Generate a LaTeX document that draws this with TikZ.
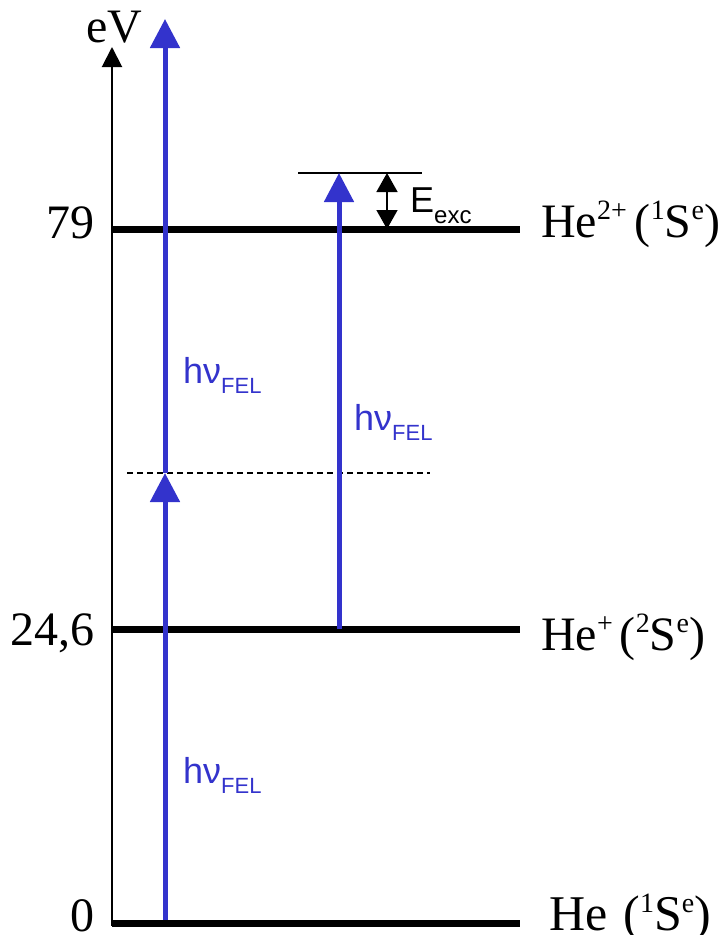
\documentclass[tikz,border=0pt]{standalone}
\usepackage{fontspec}
\setmainfont{Liberation Serif}
\newfontfamily\arialf{Liberation Sans}
\usetikzlibrary{arrows.meta}
\definecolor{felblue}{RGB}{51,51,204}
\newcommand\supx[1]{\raisebox{18pt}{\fontsize{28}{30}\selectfont #1}}
\newcommand\subx[1]{\raisebox{-10pt}{\fontsize{22}{24}\selectfont #1}}
\newcommand\subxx[1]{\raisebox{-11pt}{\fontsize{24}{26}\selectfont #1}}
\begin{document}
\begin{tikzpicture}[x=1pt,y=-1pt,
  level/.style={line width=7pt},
  axisline/.style={line width=2pt,-{Triangle[width=20pt,length=20pt]}},
  photon/.style={felblue,line width=5pt,-{Triangle[width=29pt,length=29pt]}},
  thinline/.style={line width=1.5pt},
  virtual/.style={line width=1.5pt,dash pattern=on 6pt off 4pt},
  excarrow/.style={line width=1.5pt,{Triangle[width=21pt,length=19pt]}-{Triangle[width=21pt,length=19pt]}},
  lbl/.style={font=\fontsize{48}{50}\selectfont,inner sep=0pt},
  fel/.style={text=felblue,font=\arialf\fontsize{36}{40}\selectfont,inner sep=0pt,anchor=base west}]
\useasboundingbox (0,0) rectangle (728,935);
% coordinates
\coordinate (L0a) at (112,923); \coordinate (L0b) at (520,923);
\coordinate (L1a) at (112,629); \coordinate (L1b) at (520,629);
\coordinate (L2a) at (112,229); \coordinate (L2b) at (520,229);
\coordinate (ax0) at (112,926); \coordinate (axtop) at (112,47);
\coordinate (p0) at (165,920); \coordinate (pv) at (165,473); \coordinate (ptop) at (165,19);
\coordinate (p1) at (339,629); \coordinate (pexc) at (339,173);
\coordinate (va) at (127,473); \coordinate (vb) at (430,473);
\coordinate (ea) at (298,173); \coordinate (eb) at (422,173);
\coordinate (dtop) at (387,173); \coordinate (dbot) at (387,229);
% axis and levels
\draw[axisline] (ax0) -- (axtop);
\draw[level] (L0a) -- (L0b);
\draw[level] (L1a) -- (L1b);
\draw[level] (L2a) -- (L2b);
\draw[virtual] (va) -- (vb);
\draw[thinline] (ea) -- (eb);
\draw[excarrow] (dtop) -- (dbot);
% photons
\draw[photon] (p0) -- (pv);
\draw[photon] (pv) -- (ptop);
\draw[photon] (p1) -- (pexc);
% labels
\node[lbl,anchor=base west] (ev) at (86,42) {eV};
\node[lbl,anchor=base east] (n79) at (95,238) {79};
\node[lbl,anchor=base east] (n246) at (95,645) {24,6};
\node[lbl,anchor=base east] (n0) at (95,931) {0};
\node[lbl,anchor=base west] (he2) at (541,237) {He\supx{2+}\hspace{8pt}(\supx{1}S\supx{e})};
\node[lbl,anchor=base west] (he1) at (541,650) {He\supx{+}\hspace{7pt}(\supx{2}S\supx{e})};
\node[lbl,anchor=base west,font=\fontsize{50}{52}\selectfont] (he0) at (549,930) {He\hspace{16pt}(\supx{1}S\supx{e})};
\node[fel] (f1) at (183,383) {hν\subx{FEL}};
\node[fel] (f2) at (354,430) {hν\subx{FEL}};
\node[fel] (f3) at (183,783) {hν\subx{FEL}};
\node[fel,text=black] (exc) at (410,212) {E\subxx{exc}};
\end{tikzpicture}
\end{document}
